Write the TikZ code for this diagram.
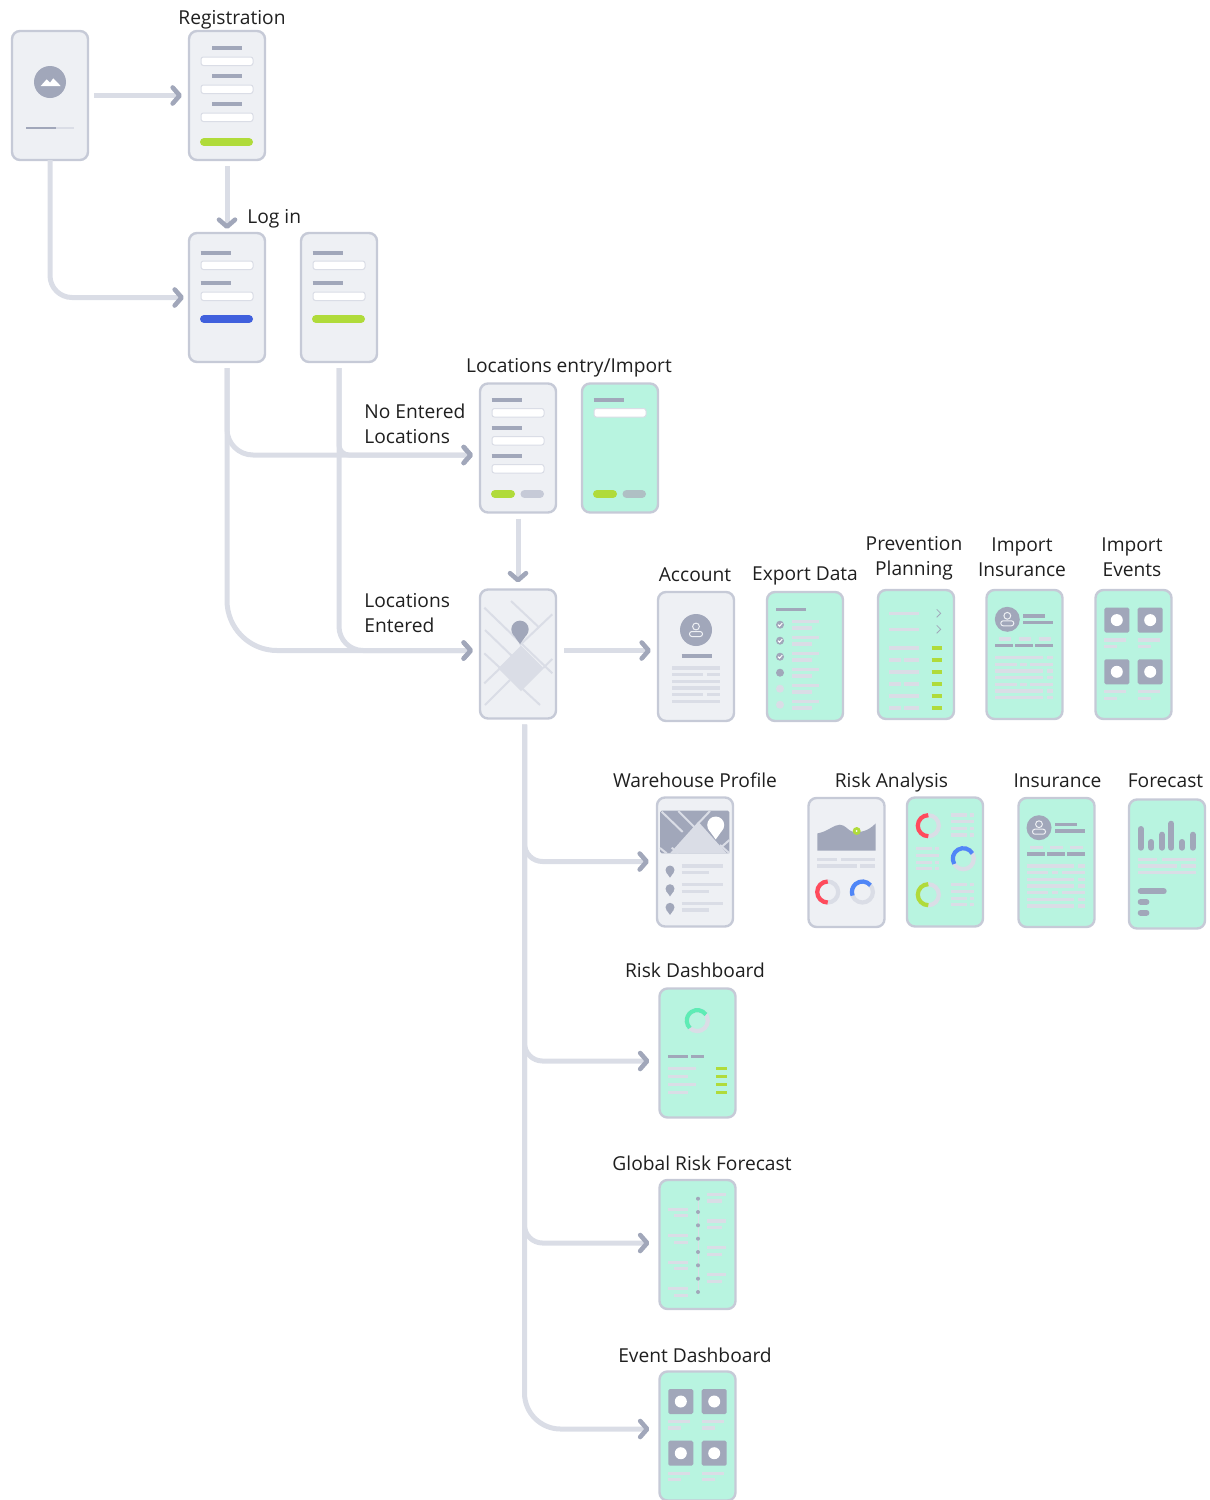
\documentclass[tikz,border=0pt]{standalone}
\usepackage{fontspec}
\setmainfont{Open Sans}
\usetikzlibrary{arrows.meta}
\usetikzlibrary{positioning}
\definecolor{phonegrey}{HTML}{EEF0F4}
\definecolor{phoneline}{HTML}{C6CAD7}
\definecolor{mint}{HTML}{B8F4E0}
\definecolor{darkbar}{HTML}{A1A7BA}
\definecolor{litebar}{HTML}{DADDE6}
\definecolor{limegreen}{HTML}{B0DB3A}
\definecolor{royal}{HTML}{4060DD}
\definecolor{ringred}{HTML}{FF4B5C}
\definecolor{ringblue}{HTML}{4F86F7}
\definecolor{ringteal}{HTML}{5EECB5}
\tikzset{
	phone/.style={draw=phoneline, line width=1.2pt, fill=phonegrey, rounded corners=4pt, minimum width=38pt, minimum height=64.5pt, inner sep=0pt, outer sep=0pt},
	phonemint/.style={phone, fill=mint},
	lbl/.style={font=\fontsize{9.6pt}{12.5pt}\selectfont, text=black!88, inner sep=0pt, align=center},
	lblleft/.style={lbl, align=left, anchor=west},
	dk/.style={draw=darkbar, line width=1.6pt},
	lt/.style={draw=litebar, line width=1.6pt},
	field/.style={draw=litebar, line width=.5pt, fill=white, rounded corners=1.2pt},
	btn/.style={line width=4pt, line cap=round},
	flow/.style={draw=litebar, line width=2.5pt, shorten <=3pt, shorten >=3.5pt, -{Straight Barb[length=3.5pt,width=8pt,line width=2.3pt,color=darkbar,round]}},
}
\newcommand{\mappin}[4]{
	\fill[#4] (#1,#2) circle (#3);
	\fill[#4] (#1-#3*.85,#2+#3*.5) -- (#1,#2+#3*1.7) -- (#1+#3*.85,#2+#3*.5) -- cycle;
}
\newcommand{\person}[3]{
	\draw[#3, line width=.5pt] (#1,#2-3.5) circle (3.4);
	\draw[#3, line width=.5pt, rounded corners=1.2pt] (#1-6.5,#2+6.5) rectangle (#1+6.5,#2+1.5);
}
\newcommand{\ring}[5]{
	\draw[litebar, line width=2.1pt] (#1,#2) circle (10.5);
	\draw[#3, line width=2.1pt] (#1,#2) ++(#4:10.5) arc (#4:#5:10.5);
}
\newcommand{\formrow}[4]{
	\draw[dk] (#1,#3) -- (#2,#3);
	\draw[field] (13,#4) rectangle (65,#4+8.5);
}
\newcommand{\profilescr}[2]{
	\begin{scope}[shift={(#1,#2)}]
		\fill[darkbar] (21.3,30) circle (12.5);
		\person{21.3}{30}{phonegrey}
		\draw[dk] (37.3,26.7) -- (59.3,26.7);
		\draw[dk] (37.3,33.3) -- (67.3,33.3);
		\foreach \c in {12.7,32.7,52.7}{
			\draw[lt] (\c,49.7) -- (\c+12.6,49.7);
		}
		\foreach \c in {9.3,29.3,49.3}{
			\draw[dk] (\c,56.3) -- (\c+18,56.3);
		}
		\foreach \r in {68.3,81.7,88.3,101.7,108.3}{
			\draw[lt] (9.3,\r) -- (56.7,\r);
			\draw[lt] (60.7,\r) -- (67.3,\r);
		}
		\foreach \r in {75,95}{
			\draw[lt] (9.3,\r) -- (30.7,\r);
			\draw[lt] (34,\r) -- (40.7,\r);
			\draw[lt] (44,\r) -- (67.3,\r);
		}
	\end{scope}
}
\newcommand{\tilesscr}[2]{
	\begin{scope}[shift={(#1,#2)}]
		\foreach \r in {18.3,70}{
			\foreach \c in {9.3,42.7}{
				\fill[darkbar, rounded corners=.8pt] (\c,\r) rectangle (\c+25,\r+25);
				\fill[white] (\c+12.5,\r+12.5) circle (6);
				\draw[lt] (\c,\r+32.4) -- (\c+22,\r+32.4);
				\draw[lt] (\c,\r+39) -- (\c+13,\r+39);
			}
		}
	\end{scope}
}
\newcommand{\notelines}[2]{
	\begin{scope}[shift={(#1,#2)}]
		\foreach \r in {0,13.4,20}{
			\draw[lt] (0,\r) -- (16,\r);
			\draw[lt] (19,\r) -- (23.3,\r);
		}
		\draw[lt] (0,6.7) -- (23.3,6.7);
	\end{scope}
}
\begin{document}
\begin{tikzpicture}[x=.5pt,y=-.5pt]
	\useasboundingbox (0,0) rectangle (1210,1500);
	\node[phone] (start) at (50,95.5) {};
	\node[phone] (reg) at (227,95.5) {};
	\node[phone] (login) at (227,297.5) {};
	\node[phone] (loginb) at (339,297.5) {};
	\node[phone] (locent) at (518,448) {};
	\node[phonemint] (locimp) at (620,448) {};
	\node[phone] (map) at (518,654) {};
	\node[phone] (account) at (696,656.5) {};
	\node[phonemint] (export) at (805,656.5) {};
	\node[phonemint] (prevent) at (916,654.5) {};
	\node[phonemint] (impins) at (1024.5,654.5) {};
	\node[phonemint] (impevt) at (1133.5,654.5) {};
	\node[phone] (warehouse) at (695,862) {};
	\node[phone] (riska) at (846.5,862.5) {};
	\node[phonemint] (riskb) at (945,862) {};
	\node[phonemint] (insur) at (1056.5,862.5) {};
	\node[phonemint] (forecast) at (1167,864) {};
	\node[phonemint] (riskdash) at (697.5,1053) {};
	\node[phonemint] (globalrisk) at (697.5,1244.5) {};
	\node[phonemint] (evtdash) at (697.5,1436) {};

	\node[lbl] (lregistr) at (232,19.5) {Registration};
	\node[lblleft] (llogin) at (247,219) {Log in};
	\node[lbl] (llocent) at (569,367.5) {Locations entry/Import};
	\node[lblleft] (lnoent) at (364,423.5) {No Entered\\Locations};
	\node[lblleft] (lentered) at (364,613.5) {Locations\\Entered};
	\node[lbl] (laccount) at (695,575) {Account};
	\node[lbl] (lexport) at (805,576) {Export Data};
	\node[lbl] (lprevent) at (914,558.5) {Prevention\\Planning};
	\node[lbl] (limpins) at (1022,557.5) {Import\\Insurance};
	\node[lbl] (limpevt) at (1132,557.5) {Import\\Events};
	\node[lbl] (lwarehouse) at (695,780.5) {Warehouse Profile};
	\node[lbl] (lrisk) at (891.5,782.5) {Risk Analysis};
	\node[lbl] (linsur) at (1057.5,781) {Insurance};
	\node[lbl] (lforecast) at (1165.5,781) {Forecast};
	\node[lbl] (lriskdash) at (695,970.5) {Risk Dashboard};
	\node[lbl] (lglobal) at (702,1163.5) {Global Risk Forecast};
	\node[lbl] (levt) at (695,1355) {Event Dashboard};

	\begin{scope}[shift={(11,30)}]
		\fill[darkbar] (39,52) circle (16);
		\fill[white] (29.7,56) -- (35.7,49.3) -- (39,52.7) -- (42.3,48.3) -- (49.7,56) -- cycle;
	\end{scope}
	\draw[litebar, line width=1pt] (26,127.5) -- (74,127.5);
	\draw[darkbar, line width=1pt] (26,127.5) -- (56,127.5);
	\begin{scope}[shift={(188,30)}]
		\foreach \r in {18,46,74}{
			\formrow{24}{54}{\r}{\r+9}
		}
		\draw[btn, limegreen] (16,112) -- (61,112);
	\end{scope}
	\foreach \c/\col in {188/royal,300/limegreen}{
		\begin{scope}[shift={(\c,232)}]
			\formrow{12.5}{42.5}{21}{29}
			\formrow{12.5}{42.5}{51}{60}
			\draw[btn, \col] (16,87) -- (61,87);
		\end{scope}
	}
	\begin{scope}[shift={(479,382)}]
		\foreach \r in {18,46,74}{
			\formrow{12.5}{42.5}{\r}{\r+8.5}
		}
		\draw[btn, limegreen] (16,112) -- (32,112);
		\draw[btn, phoneline] (45.5,112) -- (61,112);
	\end{scope}
	\begin{scope}[shift={(581,382)}]
		\formrow{12.5}{42.5}{18}{26.5}
		\draw[btn, limegreen] (16,112) -- (32,112);
		\draw[btn, phoneline!75!mint!90!black] (45.5,112) -- (61,112);
	\end{scope}
	\begin{scope}[shift={(479,588)}]
		\foreach \xa/\ya/\xb/\yb in {32/13/59.3/38.7,5.3/19.7/73.3/85.3,6/42/35/70,5.3/65.3/61/117,73.3/26.3/41/57,31/92/6/117,73.3/71/64.3/80,21/80.3/5.3/95.3}{
			\draw[litebar, line width=1pt] (\xa,\ya) -- (\xb,\yb);
		}
		\fill[litebar] (42,57.6) -- (64.7,80.3) -- (42,103) -- (19.3,80.3) -- cycle;
		\mappin{41}{41.3}{8.7}{darkbar}
	\end{scope}
	\begin{scope}[shift={(657,591)}]
		\fill[darkbar] (39,39) circle (16);
		\person{39}{39}{phonegrey}
		\draw[dk] (24.7,65) -- (54.7,65);
		\foreach \r in {77,90.3,97,110.3}{
			\draw[lt] (15,\r) -- (63,\r);
		}
		\foreach \r in {83.7,103.7}{
			\draw[lt] (15,\r) -- (46,\r);
			\draw[lt] (50,\r) -- (63,\r);
		}
	\end{scope}
	\begin{scope}[shift={(766.7,591.7)}]
		\draw[dk] (9.3,17.7) -- (39.3,17.7);
		\foreach \r/\col in {33/darkbar,49/darkbar,65/darkbar,81/darkbar,97/litebar,113/litebar}{
			\fill[\col] (13.3,\r) circle (4);
			\draw[lt] (25.3,\r-3) -- (52.7,\r-3);
			\draw[lt] (25.3,\r+3.3) -- (45,\r+3.3);
		}
		\foreach \r in {33,49,65}{
			\draw[white, line width=.5pt] (11.3,\r) -- (12.8,\r+1.5) -- (15.5,\r-1.5);
		}
	\end{scope}
	\begin{scope}[shift={(876.7,589.3)}]
		\foreach \r in {24,40}{
			\draw[lt] (12.7,\r) -- (42.7,\r);
			\draw[darkbar, line width=.4pt] (60,\r-4) -- (64,\r) -- (60,\r+4);
		}
		\foreach \r in {58.7,82.7,106.7}{
			\draw[lt] (12.7,\r) -- (42.7,\r);
			\draw[draw=limegreen, line width=1.8pt] (55,\r) -- (65,\r);
		}
		\foreach \r in {70.7,94.7,118.7}{
			\draw[lt] (12.7,\r) -- (24,\r);
			\draw[lt] (27.3,\r) -- (42.7,\r);
			\draw[draw=limegreen, line width=1.8pt] (55,\r) -- (65,\r);
		}
	\end{scope}
	\profilescr{986}{589.3}
	\tilesscr{1095}{589.3}
	\begin{scope}[shift={(655.7,796)}]
		\fill[darkbar, rounded corners=.8pt] (4.3,14.7) rectangle (73.7,57.3);
		\fill[litebar] (14.3,57.3) -- (42.6,25.7) -- (71,57.3) -- cycle;
		\foreach \xa/\ya/\xb/\yb in {6/15.7/27/36,22.6/15/39.3/31.7,54.3/15/42.6/27.3,4.3/52/11/57.3,16/51.7/22.6/57.3,64.3/49/73.7/57.3,64.3/52.3/73.7/44}{
			\draw[litebar, line width=1pt] (\xa,\ya) -- (\xb,\yb);
		}
		\mappin{60}{29}{8.5}{white}
		\foreach \r in {74,92.7,111.3}{
			\mappin{14.3}{\r}{4.5}{darkbar}
			\draw[lt] (26,\r-4) -- (67.7,\r-4);
			\draw[lt] (26,\r+2.7) -- (53.3,\r+2.7);
		}
	\end{scope}
	\begin{scope}[shift={(807.7,797.7)}]
		\fill[darkbar] (9.7,53) -- (9.7,35.7) .. controls (20,34) and (26,27) .. (32,27) .. controls (38,27) and (40,33) .. (45,34) .. controls (52,35) and (60,34) .. (68,25.7) -- (68,53) -- cycle;
		\fill[limegreen] (49,33.3) circle (4);
		\fill[white] (49,33.3) circle (1);
		\draw[lt] (9.7,61.7) -- (29,61.7);
		\draw[lt] (33.7,61.7) -- (67.7,61.7);
		\draw[lt] (9.7,68.3) -- (49,68.3);
		\draw[lt] (52.3,68.3) -- (67.7,68.3);
		\ring{20}{94.3}{ringred}{270}{90}
		\ring{54.7}{94.3}{ringblue}{320}{160}
	\end{scope}
	\begin{scope}[shift={(906,796)}]
		\ring{22.3}{29.7}{ringred}{270}{90}
		\ring{57.3}{62.7}{ringblue}{330}{150}
		\ring{22.3}{98.7}{limegreen}{270}{90}
		\notelines{44.7}{19}
		\notelines{10}{52.7}
		\notelines{44.7}{88.7}
	\end{scope}
	\profilescr{1017.7}{797.7}
	\begin{scope}[shift={(1127.7,799)}]
		\foreach \c/\r in {13/27,23.7/40,34.3/32.7,43.7/21.7,54.3/40,65/32.7}{
			\draw[darkbar, line width=3pt, line cap=round] (\c,\r+3) -- (\c,48.7);
		}
		\draw[lt] (10,60.3) -- (29,60.3);
		\draw[lt] (34,60.3) -- (68,60.3);
		\draw[lt] (10,67) -- (49,67);
		\draw[lt] (53.3,67) -- (68,67);
		\draw[lt] (10,73.7) -- (68,73.7);
		\draw[darkbar, line width=3pt, line cap=round] (13,92.3) -- (36,92.3);
		\draw[darkbar, line width=3pt, line cap=round] (13,103) -- (18.7,103);
		\draw[darkbar, line width=3pt, line cap=round] (13,113.7) -- (18.7,113.7);
	\end{scope}
	\begin{scope}[shift={(658.3,987.3)}]
		\draw[litebar, line width=2.1pt] (39,33.3) circle (10.5);
		\draw[ringteal, line width=2.1pt] (39,33.3) ++(325:10.5) arc (325:135:10.5);
		\draw[dk] (10,69) -- (29.3,69);
		\draw[dk] (32.7,69) -- (45.3,69);
		\foreach \r/\w in {81/37.7,89/29.3,97/37.7,105/29.3}{
			\draw[lt] (10,\r) -- (\w,\r);
			\draw[draw=limegreen, line width=1.8pt] (57.7,\r) -- (68.3,\r);
		}
	\end{scope}
	\begin{scope}[shift={(658.3,1179)}]
		\draw[litebar, line width=.5pt] (39.7,19.7) -- (39.7,113);
		\foreach \r in {19.7,33,46.3,59.7,73,86.3,99.7,113}{
			\fill[darkbar] (39.7,\r) circle (2);
		}
		\foreach \r in {15.3,42,68.7,95.4}{
			\draw[lt] (49,\r) -- (67.7,\r);
			\draw[lt] (49,\r+6.7) -- (63.7,\r+6.7);
		}
		\foreach \r in {30.3,56.8,83.3,109.8}{
			\draw[lt] (10,\r) -- (29.3,\r);
			\draw[lt] (15.7,\r+6.4) -- (29.3,\r+6.4);
		}
	\end{scope}
	\tilesscr{659}{1370.7}

	\coordinate (trunk) at (524.5,0);
	\coordinate (lanenoent) at (0,455);
	\coordinate (laneent) at (0,650.5);
	\coordinate (lanewh) at (0,861.5);
	\coordinate (lanerisk) at (0,1061);
	\coordinate (laneglobal) at (0,1243);
	\coordinate (laneevt) at (0,1429);
	\draw[flow] (start.east) -- (reg.west);
	\draw[flow, shorten >=2pt] (reg.south) -- (login.north);
	\draw[flow, shorten <=0pt, shorten >=2.5pt, rounded corners=11pt] (start.south) |- (login.west);
	\draw[flow, rounded corners=13pt] (login.south) |- (locent.west |- lanenoent);
	\draw[flow, rounded corners=25pt] (login.south) |- (map.west |- laneent);
	\draw[flow, rounded corners=5pt] (loginb.south) |- (locent.west |- lanenoent);
	\draw[flow, rounded corners=12pt] (loginb.south) |- (map.west |- laneent);
	\draw[flow] (locent.south) -- (map.north);
	\draw[flow, shorten <=4pt] (map.east |- laneent) -- (account.west |- laneent);
	\draw[flow, shorten >=4pt, rounded corners=9pt] (trunk |- map.south) |- (warehouse.west |- lanewh);
	\draw[flow, shorten >=5pt, rounded corners=9pt] (trunk |- map.south) |- (riskdash.west |- lanerisk);
	\draw[flow, shorten >=5pt, rounded corners=9pt] (trunk |- map.south) |- (globalrisk.west |- laneglobal);
	\draw[flow, shorten >=5pt, rounded corners=18pt] (trunk |- map.south) |- (evtdash.west |- laneevt);
\end{tikzpicture}
\end{document}
